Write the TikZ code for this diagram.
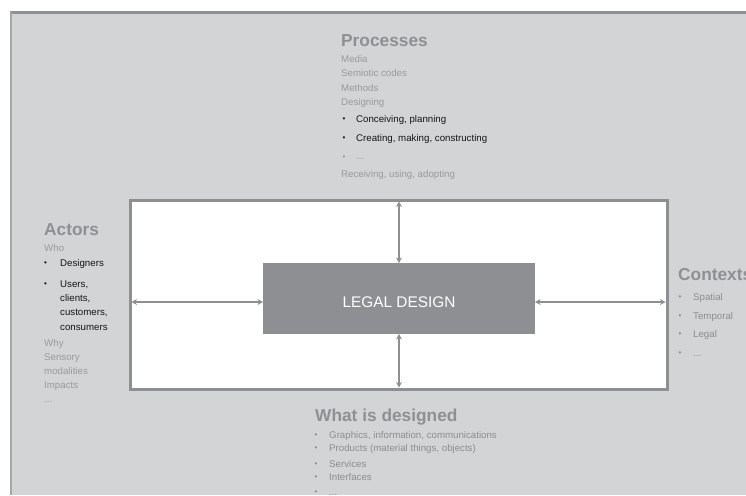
\documentclass[tikz,border=0pt]{standalone}
\usepackage{fontspec}
\setmainfont{Liberation Sans}
\usetikzlibrary{arrows.meta}
\definecolor{panel}{HTML}{D3D4D6}
\definecolor{lineg}{HTML}{8E8F93}
\definecolor{headg}{HTML}{8F9093}
\definecolor{textg}{HTML}{999A9D}
\definecolor{itemg}{HTML}{8C8D90}
\definecolor{blk}{HTML}{151515}
\begin{document}
\begin{tikzpicture}[x=1pt,y=-1pt,
  ttl/.style={anchor=base west,inner sep=0pt,text=headg,font=\fontsize{17.3}{19}\selectfont\bfseries},
  txt/.style={anchor=base west,inner sep=0pt,text=textg,font=\fontsize{9.7}{11}\selectfont},
  itm/.style={txt,text=itemg},
  blkt/.style={txt,text=blk},
  bul/.style={anchor=base west,inner sep=0pt,font=\fontsize{8}{9}\selectfont},
  frm/.style={draw=lineg,line width=3pt,fill=white,inner sep=0pt,outer sep=-1.5pt},
  core/.style={fill=lineg,inner sep=0pt,outer sep=0pt},
  arr/.style={draw=lineg,line width=2.4pt,{Stealth[length=5.5pt,width=6pt]}-{Stealth[length=5.5pt,width=6pt]}}
]
\useasboundingbox (0,0) rectangle (746,495);
\fill[white] (0,0) rectangle (746,495);
\fill[panel] (10,11) rectangle (746,495);
\draw[lineg,line width=3pt] (10,12.5) -- (746,12.5);
\draw[headg!80,line width=1.4pt] (10.9,12) -- (10.9,495);
% frame and core
\node[frm,minimum width=537pt,minimum height=189pt] (frame) at (398.5,294.5) {};
\node[core,minimum width=272pt,minimum height=71pt] (ld) at (399,298.5) {};
\node[anchor=base,inner sep=0pt,text=white,font=\fontsize{15.4}{17}\selectfont] (ldt) at (399,307) {LEGAL DESIGN};
% arrows
\draw[arr] (ld.north) -- (ld.north |- frame.north);
\draw[arr] (ld.south) -- (ld.south |- frame.south);
\draw[arr] (ld.west |- 0,302) -- (frame.west |- 0,302);
\draw[arr] (ld.east |- 0,302) -- (frame.east |- 0,302);
% Processes
\node[ttl] (pt) at (341,46) {Processes};
\node[txt] (p1) at (341,62.5) {Media};
\node[txt] (p2) at (341,76.5) {Semiotic codes};
\node[txt] (p3) at (341,91.5) {Methods};
\node[txt] (p4) at (341,105.5) {Designing};
\node[bul,text=blk] (p5b) at (342.5,121.5) {•};
\node[blkt] (p5) at (356,122.5) {Conceiving, planning};
\node[bul,text=blk] (p6b) at (342.5,140.5) {•};
\node[blkt] (p6) at (356,141.5) {Creating, making, constructing};
\node[bul,text=textg] (p7b) at (342.5,159) {•};
\node[txt] (p7) at (356,159.5) {...};
\node[txt] (p8) at (341,177.5) {Receiving, using, adopting};
% Actors
\node[ttl] (at) at (44,235) {Actors};
\node[txt] (a1) at (44,251.5) {Who};
\node[bul,text=blk] (a2b) at (44,265.5) {•};
\node[blkt] (a2) at (60,266.5) {Designers};
\node[bul,text=blk] (a3b) at (44,286.5) {•};
\node[blkt] (a3) at (60,287.5) {Users,};
\node[blkt] (a4) at (60,301.5) {clients,};
\node[blkt] (a5) at (60,315.5) {customers,};
\node[blkt] (a6) at (60,330.5) {consumers};
\node[txt] (a7) at (44,346.5) {Why};
\node[txt] (a8) at (44,360.5) {Sensory};
\node[txt] (a9) at (44,374.5) {modalities};
\node[txt] (a10) at (44,388.5) {Impacts};
\node[txt] (a11) at (44,402.5) {...};
% Contexts
\node[ttl] (ct) at (678,280) {Contexts};
\node[bul,text=itemg] (c1b) at (678.5,299.5) {•};
\node[itm] (c1) at (693,300.5) {Spatial};
\node[bul,text=itemg] (c2b) at (678.5,318.5) {•};
\node[itm] (c2) at (693,319.5) {Temporal};
\node[bul,text=itemg] (c3b) at (678.5,336.5) {•};
\node[itm] (c3) at (693,337.5) {Legal};
\node[bul,text=itemg] (c4b) at (678.5,355.5) {•};
\node[itm] (c4) at (693,356.5) {...};
% What is designed
\node[ttl] (wt) at (315,421) {What is designed};
\node[bul,text=itemg] (w1b) at (314.5,437.5) {•};
\node[itm] (w1) at (329,438.5) {Graphics, information, communications};
\node[bul,text=itemg] (w2b) at (314.5,450.5) {•};
\node[itm] (w2) at (329,451.5) {Products (material things, objects)};
\node[bul,text=itemg] (w3b) at (314.5,466.5) {•};
\node[itm] (w3) at (329,467.5) {Services};
\node[bul,text=itemg] (w4b) at (314.5,479.5) {•};
\node[itm] (w4) at (329,480.5) {Interfaces};
\node[bul,text=itemg] (w5b) at (314.5,494) {•};
\node[itm] (w5) at (329,495.5) {...};
\end{tikzpicture}
\end{document}
